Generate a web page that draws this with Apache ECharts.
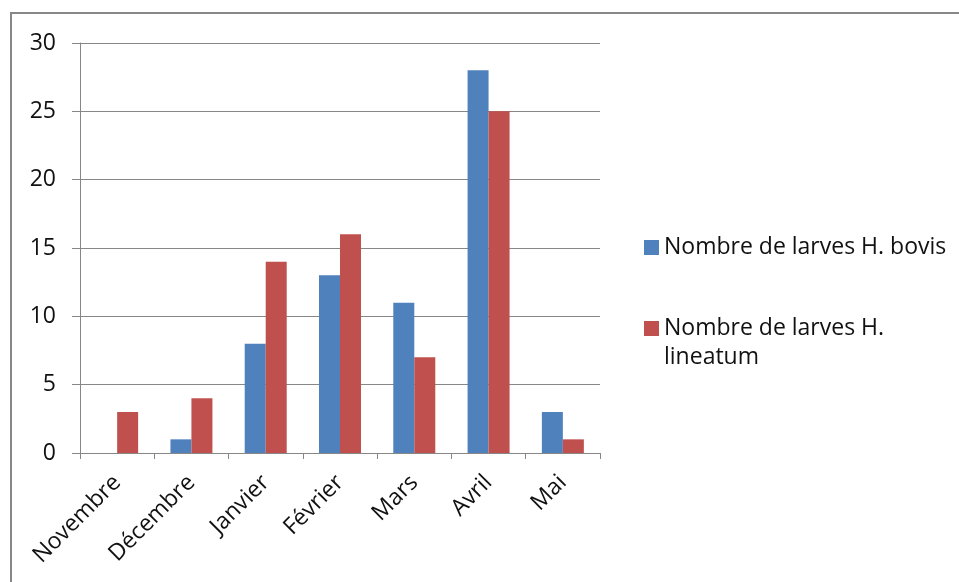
<!DOCTYPE html>
<html>
<head>
<meta charset="utf-8">
<script src="https://cdn.jsdelivr.net/npm/echarts@6/dist/echarts.min.js"></script>
<style>
  html, body { margin: 0; padding: 0; background: #fff; }
  #chart { width: 959px; height: 582px; }
</style>
</head>
<body>
<div id="chart"></div>
<script>
// Monthly larva counts for the two Hypoderma species
const months = ['Novembre', 'Décembre', 'Janvier', 'Février', 'Mars', 'Avril', 'Mai'];
const bovis = [0, 1, 8, 13, 11, 28, 3];
const lineatum = [3, 4, 14, 16, 7, 25, 1];
const seriesNames = ['Nombre de larves H. bovis', 'Nombre de larves H. lineatum'];
const yTicks = { min: 0, max: 30, interval: 5 };

const font = '"Open Sans", "Noto Sans", sans-serif';
const chart = echarts.init(document.getElementById('chart'), null, { renderer: 'canvas' });

chart.setOption({
  animation: false,
  backgroundColor: '#fff',
  graphic: [{
    type: 'rect',
    shape: { x: 11, y: 13, width: 1000, height: 1000 },
    style: { fill: 'none', stroke: '#878787', lineWidth: 2 },
    silent: true
  }],
  grid: { left: 80, right: 359, top: 43, bottom: 129 },
  legend: {
    orient: 'vertical',
    left: 639,
    top: 228,
    itemWidth: 15,
    itemHeight: 15,
    itemGap: 23,
    icon: 'rect',
    textStyle: { fontFamily: font, fontSize: 23, color: '#111', lineHeight: 29 },
    // the wrapped label starts with an empty line so the marker sits level with its first line
    formatter: function (name) {
      return name === seriesNames[1] ? '\nNombre de larves H.\nlineatum' : name;
    }
  },
  xAxis: {
    type: 'category',
    data: months,
    axisLine: { lineStyle: { color: '#878787', width: 1 } },
    axisTick: { show: true, length: 6, lineStyle: { color: '#878787' } },
    axisLabel: { rotate: 45, fontFamily: font, fontSize: 23, color: '#111', margin: 26, interval: 0 }
  },
  yAxis: {
    type: 'value',
    min: yTicks.min,
    max: yTicks.max,
    interval: yTicks.interval,
    axisLine: { show: true, lineStyle: { color: '#878787' } },
    axisTick: { show: true, inside: false, length: 8, lineStyle: { color: '#878787' } },
    axisLabel: { fontFamily: font, fontSize: 23, color: '#111', margin: 24 },
    splitLine: { lineStyle: { color: '#878787', width: 1 } }
  },
  series: [
    {
      name: seriesNames[0], type: 'bar', data: bovis,
      barWidth: 21, barGap: '0%',
      itemStyle: { color: '#4F81BD' }
    },
    {
      name: seriesNames[1], type: 'bar', data: lineatum,
      barWidth: 21, barGap: '0%',
      itemStyle: { color: '#C0504D' }
    }
  ]
});
</script>
</body>
</html>
